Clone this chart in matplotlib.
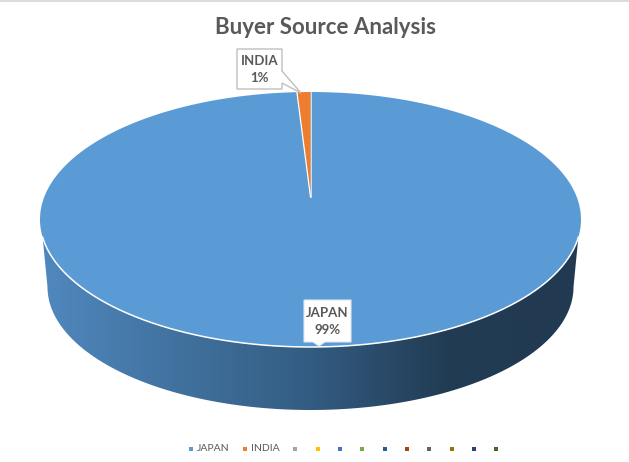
import numpy as np
import matplotlib.pyplot as plt
from matplotlib.colors import LinearSegmentedColormap
from matplotlib.patches import Polygon

# Data
categories = ["JAPAN", "INDIA"]
shares = [99.2, 0.8]
slice_colors = ["#5B9BD5", "#ED7D31"]
legend_labels = ["JAPAN", "INDIA", "", "", "", "", "", "", "", "", "", ""]
legend_colors = ["#5B9BD5", "#ED7D31", "#A5A5A5", "#FFC000", "#4472C4", "#70AD47",
                 "#255E91", "#9E480E", "#636363", "#997300", "#264478", "#43682B"]

plt.rcParams['font.family'] = ['Lato', 'DejaVu Sans']

fig = plt.figure(figsize=(6.29, 4.62), dpi=100)
ax = fig.add_axes([0, 0, 1, 1])
ax.set_xlim(0, 629)
ax.set_ylim(462, 0)
ax.axis('off')

# top surface ellipse, bottom ellipse (smaller because of perspective)
cx, cy, rx, ry = 310.5, 219.5, 270.5, 127.5
cy2, rx2, ry2 = 287, 263, 123
tip = (310.5, 197)


def top_point(t):
    # t in radians, clockwise from the top of the ellipse
    return cx + rx * np.sin(t), cy - ry * np.cos(t)


# side of the pie with a left-right gradient
t_low = np.linspace(np.pi * 1.5, np.pi * 0.5, 200)
x_low = cx + rx2 * np.sin(t_low)
y_low = cy2 - ry2 * np.cos(t_low)
t_up = np.linspace(np.radians(98), np.radians(262), 200)
x_up, y_up = top_point(t_up)
side = Polygon(np.column_stack([np.r_[x_up, x_low], np.r_[y_up, y_low]]),
               closed=True, fc='none', ec='none')
ax.add_patch(side)
side_cmap = LinearSegmentedColormap.from_list(
    'side', ["#5088BE", "#41729F", "#335C82", "#223C54", "#213A51"])
grad = ax.imshow(np.linspace(0, 1, 256).reshape(1, -1), cmap=side_cmap,
                 extent=(40, 581, 415, 220), aspect='auto', zorder=1)
grad.set_clip_path(side)
ax.set_xlim(0, 629)
ax.set_ylim(462, 0)

# top surface slices from the shares, India runs up to 12 o'clock
fractions = np.array(shares) / sum(shares)
edges = 2 * np.pi * np.r_[0, np.cumsum(fractions)]
for begin, stop, color in zip(edges[:-1], edges[1:], slice_colors):
    t = np.linspace(begin, stop, 400)
    px, py = top_point(t)
    ax.fill(np.r_[tip[0], px], np.r_[tip[1], py], fc=color, ec='none', zorder=2)

# thin white lines: front rim and slice boundaries
t_rim = np.linspace(np.radians(98), np.radians(262), 300)
ax.plot(*top_point(t_rim), color='white', lw=1.1, zorder=3)
bx, by = top_point(edges[1])
ax.plot([tip[0], bx], [tip[1], by], color='white', lw=0.9, zorder=3)
ax.plot([tip[0], tip[0]], [tip[1], cy - ry], color='white', lw=0.5, zorder=3)

# title and frame line at the top
ax.text(325.5, 27, "Buyer Source Analysis", fontsize=16, fontweight='bold',
        color='#595959', ha='center', va='center')
ax.plot([0, 629], [0.5, 0.5], color='#D4D4D4', lw=1.2)

# data label callouts
india = Polygon([(237, 49), (282, 49), (282, 71), (301, 93), (282, 83), (282, 89), (237, 89)],
                closed=True, fc='white', ec='#BFBFBF', lw=1, zorder=4)
ax.add_patch(india)
japan = Polygon([(304, 300), (351, 300), (351, 342), (325, 342), (319, 346), (313, 342), (304, 342)],
                closed=True, fc='white', ec='#DDE6EE', lw=0.8, zorder=4)
ax.add_patch(japan)
label_centers = [(327.5, 321.5), (259.5, 69.5)]
for name, share, (lx, ly) in zip(categories, shares, label_centers):
    ax.text(lx, ly, f"{name}\n{round(share)}%", fontsize=9.5, fontweight='bold',
            color='#595959', ha='center', va='center', linespacing=1.45, zorder=5)

# legend
legend_x = [191, 245, 295, 318, 340, 362, 385, 407, 429, 452, 474, 496]
for x, label, color in zip(legend_x, legend_labels, legend_colors):
    ax.scatter([x], [449], marker='s', s=9, color=color, linewidths=0)
    if label:
        ax.text(x + 6, 448.5, label, fontsize=7.5, color='#595959', ha='left', va='center')

fig.savefig('out.png', dpi=100)
